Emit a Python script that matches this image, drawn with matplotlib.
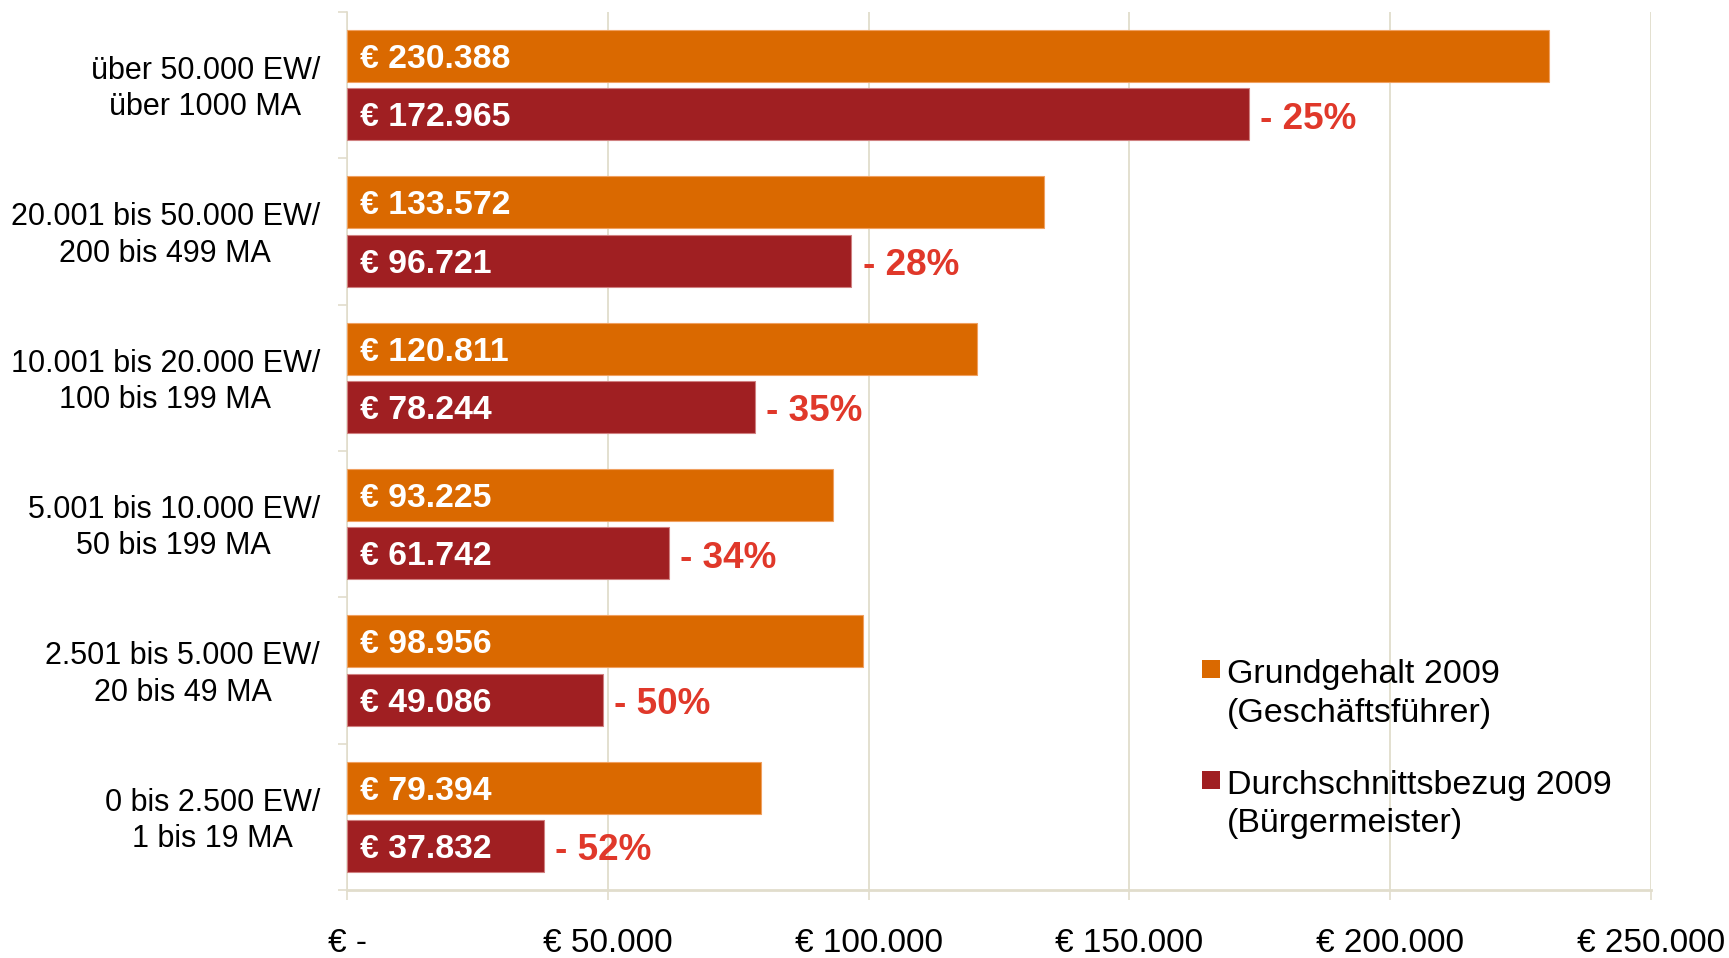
import matplotlib
matplotlib.use("Agg")
import matplotlib.pyplot as plt
from matplotlib.ticker import FuncFormatter, FixedLocator
from matplotlib.patches import Rectangle
import matplotlib.transforms as mtransforms

categories = [
    "über 50.000 EW/\nüber 1000 MA",
    "20.001 bis 50.000 EW/\n200 bis 499 MA",
    "10.001 bis 20.000 EW/\n100 bis 199 MA",
    "5.001 bis 10.000 EW/\n50 bis 199 MA",
    "2.501 bis 5.000 EW/\n20 bis 49 MA",
    "0 bis 2.500 EW/\n1 bis 19 MA",
]
grundgehalt = [230388, 133572, 120811, 93225, 98956, 79394]
durchschnitt = [172965, 96721, 78244, 61742, 49086, 37832]
pct_diff = [25, 28, 35, 34, 50, 52]
series_names = ["Grundgehalt 2009\n(Geschäftsführer)",
                "Durchschnittsbezug 2009\n(Bürgermeister)"]
xticks = [0, 50000, 100000, 150000, 200000, 250000]

ORANGE = "#DA6900"
RED = "#A01F22"
PCT = "#E0382A"
GRID = "#E1DDCC"

plt.rcParams['font.family'] = ['Liberation Sans', 'DejaVu Sans']

W, H = 1729, 958
fig = plt.figure(figsize=(W/100, H/100), dpi=100)
ax = fig.add_axes([347/W, 1-890/H, (1651-347)/W, (890-12)/H])

def eur(v):
    return "€ " + f"{v:,.0f}".replace(",", ".")

ypos = list(range(len(categories)))
off = 0.2
h = 0.355
y1 = [y - off for y in ypos]
y2 = [y + off for y in ypos]
ax.barh(y1, grundgehalt, height=h, color=ORANGE, edgecolor="#F0A060", linewidth=0.8, zorder=3)
ax.barh(y2, durchschnitt, height=h, color=RED, edgecolor="#D08080", linewidth=0.8, zorder=3)

for yy, v in zip(y1, grundgehalt):
    ax.annotate(eur(v), xy=(0, yy), xytext=(9.5, -2.5), textcoords="offset points",
                va="center", ha="left", color="white", fontsize=24.3, fontweight="bold", zorder=4)
for yy, v, p in zip(y2, durchschnitt, pct_diff):
    ax.annotate(eur(v), xy=(0, yy), xytext=(9.5, -2.5), textcoords="offset points",
                va="center", ha="left", color="white", fontsize=24.3, fontweight="bold", zorder=4)
    ax.annotate(f"- {p}%", xy=(v, yy), xytext=(8, -3.5), textcoords="offset points",
                va="center", ha="left", color=PCT, fontsize=26.6, fontweight="bold", zorder=4)

ax.set_xlim(0, 250000)
ax.set_ylim(len(categories) - 0.5, -0.5)

ax.set_xticks(xticks)
ax.xaxis.set_major_formatter(FuncFormatter(lambda v, p: "€ -" if v == 0 else eur(v)))
ax.tick_params(axis="x", length=7.2, width=1.2, color=GRID, pad=20, labelsize=24)
ax.grid(axis="x", color=GRID, linewidth=1.3, zorder=0)

ax.set_yticks(ypos)
ax.set_yticklabels(categories)
ax.tick_params(axis="y", which="major", length=0, pad=19.5, labelsize=22)
ax.yaxis.set_minor_locator(FixedLocator([i - 0.5 for i in range(len(categories) + 1)]))
ax.tick_params(axis="y", which="minor", length=6.5, width=1.2, color=GRID, direction="out")
shift = mtransforms.ScaledTranslation(0, 2.7/100, fig.dpi_scale_trans)
for lbl in ax.get_yticklabels():
    lbl.set_multialignment("center")
    lbl.set_linespacing(1.27)
    lbl.set_transform(lbl.get_transform() + shift)

for s in ["top", "right"]:
    ax.spines[s].set_visible(False)
ax.spines["left"].set_color(GRID)
ax.spines["left"].set_linewidth(1.2)
ax.spines["bottom"].set_color(GRID)
ax.spines["bottom"].set_linewidth(2.0)

# legend
leg_colors = [ORANGE, RED]
sq_top = [660, 771]
txt_center = [694, 804.5]
for c, name, st, tc in zip(leg_colors, series_names, sq_top, txt_center):
    fig.patches.append(Rectangle((1202/W, 1-(st+18)/H), 18/W, 18/H, transform=fig.transFigure,
                                 facecolor=c, edgecolor="none"))
    fig.text(1227/W, 1-tc/H, name, ha="left", va="center", fontsize=24.5, linespacing=1.32)

fig.savefig("out.png", dpi=100)
